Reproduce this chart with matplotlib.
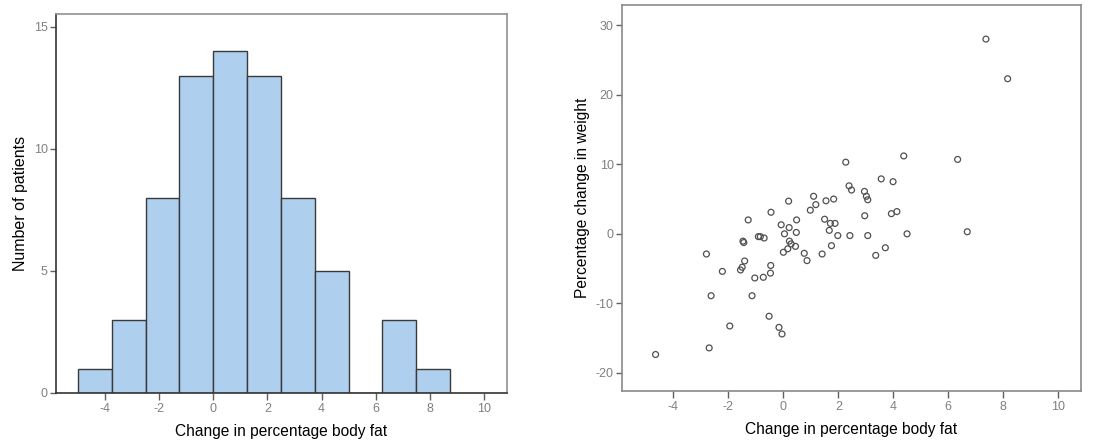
import numpy as np
import matplotlib
matplotlib.use('Agg')
import matplotlib.pyplot as plt

plt.rcParams['font.family'] = ['Liberation Sans', 'DejaVu Sans']
plt.rcParams['axes.unicode_minus'] = False

# histogram: bin edges and patient counts
bin_edges = [-5.0, -3.75, -2.5, -1.25, 0.0, 1.25, 2.5, 3.75, 5.0, 6.25, 7.5, 8.75]
counts = [1, 3, 8, 13, 14, 13, 8, 5, 0, 3, 1]

# scatter: change in body fat vs percentage change in weight
fat_change = [7.37, 8.16, 6.34, 4.38, 2.27, 3.56, 3.99, 2.39, 2.48, 2.95,
              3.02, 3.07, 1.10, 1.18, 1.83, 1.55, 0.19, 0.98, -0.45, 4.13,
              3.93, 2.96, -1.28, 0.48, 1.50, 1.71, 1.88, -0.08, 0.21, 1.67,
              0.47, 0.04, 4.50, 6.69, 1.98, 2.42, 3.07, -0.91, -0.84, -0.70,
              -1.47, -1.44, 0.22, 0.28, 0.44, 0.16, 1.75, 3.71, 0.00, 0.76,
              1.41, -2.80, 3.36, 0.86, -1.41, -0.46, -1.50, -1.56, -0.47, -2.22,
              -1.04, -0.73, -2.63, -1.14, -0.52, -1.95, -0.16, -0.05, -2.70, -4.65]
weight_change = [28.0, 22.3, 10.7, 11.2, 10.3, 7.9, 7.5, 6.9, 6.3, 6.1,
                 5.4, 4.9, 5.4, 4.2, 5.0, 4.75, 4.7, 3.4, 3.1, 3.2,
                 2.9, 2.6, 2.0, 2.0, 2.1, 1.5, 1.5, 1.3, 0.9, 0.5,
                 0.2, 0.0, 0.0, 0.3, -0.25, -0.25, -0.25, -0.4, -0.4, -0.6,
                 -1.05, -1.25, -1.05, -1.45, -1.8, -2.15, -1.7, -2.0, -2.65, -2.8,
                 -2.9, -2.9, -3.1, -3.85, -3.9, -4.55, -4.8, -5.2, -5.65, -5.4,
                 -6.35, -6.25, -8.9, -8.9, -11.85, -13.25, -13.45, -14.4, -16.4, -17.35]

xticks = [-4, -2, 0, 2, 4, 6, 8, 10]

fig = plt.figure(figsize=(11.2, 4.48), dpi=100)
ax1 = fig.add_axes([0.05, 0.1228, 0.4027, 0.846])
ax2 = fig.add_axes([0.5554, 0.1272, 0.4098, 0.8616])

tick_grey = '#808080'
tick_size = 9

# histogram
widths = np.diff(bin_edges)
ax1.bar(bin_edges[:-1], counts, width=widths, align='edge',
        color='#aecfee', edgecolor='#3a3a3a', linewidth=1.0)
ax1.set_xlim(-5.81, 10.85)
ax1.set_ylim(0, 15.53)
ax1.set_yticks([0, 5, 10, 15])
ax1.set_xticks(xticks)
ax1.set_ylabel('Number of patients', fontsize=11.5)
ax1.set_xlabel('Change in percentage body fat', fontsize=11.2)
for side in ['left', 'bottom']:
    ax1.spines[side].set_color('#333333')
    ax1.spines[side].set_linewidth(1.2)
for side in ['top', 'right']:
    ax1.spines[side].set_color('#909090')
    ax1.spines[side].set_linewidth(1.2)

# scatter
ax2.scatter(fat_change, weight_change, s=18, facecolors='none',
            edgecolors='#505050', linewidths=0.9)
ax2.set_xlim(-5.87, 10.83)
ax2.set_ylim(-22.6, 32.9)
ax2.set_yticks([-20, -10, 0, 10, 20, 30])
ax2.set_xticks(xticks)
ax2.set_ylabel('Percentage change in weight', fontsize=11.2)
ax2.set_xlabel('Change in percentage body fat', fontsize=11.2)
for side in ax2.spines:
    ax2.spines[side].set_color('#8a8a8a')
    ax2.spines[side].set_linewidth(1.2)

for ax in (ax1, ax2):
    ax.tick_params(direction='out', length=4, width=1.0, color='#606060',
                   labelcolor=tick_grey, labelsize=tick_size, pad=2)
    ax.tick_params(axis='x', length=5)
    ax.xaxis.labelpad = 7
    ax.yaxis.labelpad = 4

fig.savefig('out.png', dpi=100)
